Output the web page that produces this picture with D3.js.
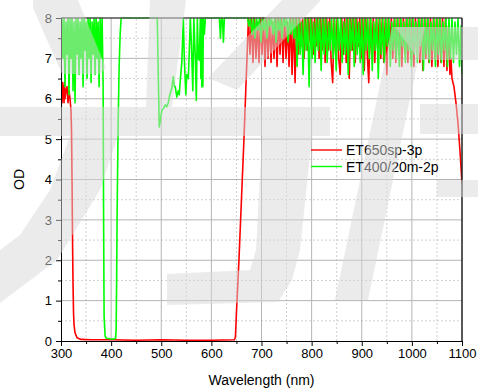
<!DOCTYPE html>
<html>
<head>
<meta charset="utf-8">
<script src="https://cdn.jsdelivr.net/npm/d3@7"></script>
<style>
  html, body { margin: 0; padding: 0; background: #fff; }
  svg { display: block; font-family: "Liberation Sans", Arial, sans-serif; }
</style>
</head>
<body>
<svg id="chart" width="478" height="388"></svg>
<script>
// Series names and colours (legend order)
const seriesNames = ["ET650sp-3p", "ET400/20m-2p"];
const seriesColors = ["#ff0000", "#00ff00"];

// ET650sp-3p: [wavelength nm, OD]
const et650sp = [
  [300,5.5],[301,6.1],[302,5.9],[303,6.4],[304,6.0],[305,6.3],[306,5.9],[307,6.4],[308,6.0],
  [310,6.2],[312,6.3],[314,5.9],[316,6.2],[318,6.0],[320,5.7],[321,5.2],[322,4.0],[323,2.5],
  [324,1.4],[325,0.7],[326,0.4],[328,0.2],[332,0.08],[340,0.04],[360,0.03],[400,0.03],[450,0.02],
  [500,0.03],[550,0.02],[600,0.02],[646,0.03],[648,0.1],[650,0.7],[655,2.0],[660,3.5],[665,5.0],
  [668,6.0],[671,7.0],[674,8],
  [677,7.1],[680,8],[683,6.9],[686,8],[689,7.0],[692,7.9],[695,6.9],[698,8],[701,7.1],
  [704,8],[707,6.8],[710,8],[713,7.0],[716,8],[719,6.9],[722,7.9],[725,7.0],[728,8],[731,6.8],
  [734,8],[737,7.1],[740,8],[743,6.9],[746,8],[749,7.0],[752,7.9],[755,6.8],[758,8],[761,6.6],
  [764,8],[767,6.4],[770,8],[773,7.1],[776,8],[779,7.3],[782,8],[785,7.0],[788,8],[791,7.2],
  [794,8],[797,7.4],[800,8],[803,7.1],[806,8],[809,7.3],[812,8],[815,7.0],[818,8],[821,7.2],
  [824,8],[827,6.9],[830,8],[833,7.2],[836,8],[839,6.9],[842,6.4],[845,8],[848,7.1],[851,8],
  [854,7.0],[857,6.6],[860,8],[863,7.1],[866,8],[869,6.9],[872,8],[875,6.5],[878,8],[881,7.2],
  [884,8],[887,6.9],[890,8],[893,7.3],[896,8],[899,7.0],[902,8],[905,6.7],[908,8],[911,7.1],
  [914,6.4],[917,8],[920,7.1],[923,8],[926,6.9],[929,8],[932,7.2],[935,8],[938,7.0],[941,8],
  [944,6.9],[947,8],[950,6.6],[953,8],[956,7.2],[959,8],[962,7.0],[965,8],[968,6.9],[971,8],
  [974,7.1],[977,8],[980,6.8],[983,8],[986,7.1],[989,8],[992,6.9],[995,8],[998,7.0],[1001,8],
  [1004,6.8],[1007,8],[1010,7.1],[1013,8],[1016,6.9],[1019,8],[1022,6.7],[1025,8],[1028,7.0],
  [1031,8],[1034,6.9],[1037,8],[1040,6.8],[1043,8],[1046,7.0],[1049,8],[1052,6.8],[1055,8],
  [1058,6.9],[1061,8],[1064,6.8],[1067,8],[1070,6.7],[1073,7.8],[1076,6.6],[1078,7.0],[1080,6.5],
  [1084,6.3],[1088,5.9],[1092,5.4],[1096,4.7],[1100,3.9]
];

// ET400/20m-2p: [wavelength nm, OD]
const et400 = [
  [300,6.6],[302,8],[304,7.0],[306,8],[308,6.3],[310,7.9],[312,7.1],[314,8],[316,6.1],[318,8],
  [320,7.0],[322,8],[324,6.2],[326,7.9],[328,5.9],[330,8],[332,7.1],[334,8],[336,6.6],[338,7.9],
  [340,7.0],[342,8],[344,6.3],[346,8],[348,7.2],[350,7.9],[352,6.5],[354,8],[356,7.0],[358,8],
  [360,6.4],[362,7.9],[364,7.1],[366,8],[368,6.6],[370,8],[372,7.0],[374,7.9],[376,6.3],[378,8],
  [380,7.0],[382,8],[384,6.4],
  [385,3.0],[386,0.6],[388,0.12],[390,0.07],[395,0.06],[400,0.05],[405,0.05],[409,0.07],[410,0.3],
  [411,1.5],[412,3.2],[414,5.4],[416,6.8],[418,7.6],[420,8],[492,8],
  [496,5.3],[498,5.45],[501,5.7],[504,5.75],[508,5.85],[511,5.8],[514,5.9],[517,6.1],[521,6.26],
  [524,6.55],[526,6.3],[528,6.3],[531,6.04],[534,6.2],[536,6.1],[538,6.46],[541,6.9],[543,7.6],
  [544,8],[546,7.0],[549,6.1],[551,6.6],[554,6.5],[556,7.2],[558,8],[560,7.4],[563,6.2],[565,8],
  [568,7.0],[570,5.96],[572,8],[574,7.0],[576,6.95],[578,8],[579,6.5],[580,8],[581,6.3],[582,8],
  [583,6.3],[584,8],[586,7.6],[588,8],[616,8],[618,7.5],[620,8],[622,8],[624,7.4],[626,8],
  [672,8],[675,7.8],[678,8],[681,7.6],[684,8],[687,7.5],[690,8],[693,7.7],[696,8],[699,7.4],
  [702,8],[705,7.7],[708,8],[711,7.5],[714,8],[717,7.8],[720,8],[723,7.6],[726,8],[729,7.4],
  [732,8],[735,7.7],[738,8],[741,7.5],[744,8],[747,7.8],[750,8],[753,7.4],[756,8],[759,7.6],
  [762,8],[765,7.5],[768,8],[771,6.8],[774,8],[777,7.1],[780,7.9],[783,6.6],[786,8],[789,7.2],
  [792,8],[795,6.3],[798,8],[801,7.0],[804,7.9],[807,6.9],[810,8],[813,7.2],[816,8],[819,6.7],
  [822,8],[825,7.1],[828,8],[831,6.9],[834,7.9],[837,7.2],[840,8],[843,7.0],[846,8],[849,6.7],
  [852,8],[855,7.2],[858,8],[861,6.9],[864,7.9],[867,7.1],[870,8],[873,6.6],[876,8],[879,7.2],
  [882,8],[885,6.8],[888,8],[891,7.1],[894,7.9],[897,6.9],[900,8],[903,6.6],[906,8],[909,7.2],
  [912,8],[915,7.0],[918,8],[921,6.7],[924,7.9],[927,7.2],[930,8],[933,6.5],[936,8],[939,7.1],
  [942,8],[945,6.9],[948,8],[951,7.3],[954,8],[957,6.8],[960,7.9],[963,7.2],[966,8],[969,7.0],
  [972,8],[975,6.8],[978,8],[981,7.3],[984,7.9],[987,6.9],[990,8],[993,7.2],[996,8],[999,6.8],
  [1002,8],[1005,7.1],[1008,7.9],[1011,6.9],[1014,8],[1017,7.3],[1020,8],[1023,6.7],[1026,8],
  [1029,7.1],[1032,8],[1035,6.9],[1038,7.9],[1041,7.2],[1044,8],[1047,6.8],[1050,8],[1053,7.1],
  [1056,8],[1059,6.9],[1062,7.9],[1065,7.2],[1068,8],[1071,6.8],[1074,8],[1077,7.0],[1080,8],
  [1083,6.9],[1086,7.9],[1089,7.1],[1092,8],[1095,6.8],[1098,7.8],[1100,6.6]
];

const xTicks = [300, 400, 500, 600, 700, 800, 900, 1000, 1100];
const xMinorTicks = [350, 450, 550, 650, 750, 850, 950, 1050];
const yTicks = [0, 1, 2, 3, 4, 5, 6, 7, 8];
const yMinorTicks = [0.5, 1.5, 2.5, 3.5, 4.5, 5.5, 6.5, 7.5];

// Watermark strokes laid over the picture (pixel polygons)
const watermark = [
  [[33,0],[78,0],[106,68],[100,74],[62,74],[33,8]],
  [[150,0],[186,0],[172,107],[146,107]],
  [[0,107],[330,107],[330,136],[0,136]],
  [[420,104],[478,104],[478,134],[420,134]],
  [[70,136],[118,136],[100,190],[57,260],[0,303],[0,250],[20,235],[50,190]],
  [[208,78],[282,0],[321,0],[237,90]],
  [[262,136],[312,136],[300,250],[292,280],[278,302],[167,305],[167,274],[250,270],[256,250]],
  [[392,27],[425,27],[368,300],[335,300]],
  [[395,27],[478,27],[478,60],[419,60]],
  [[437,180],[478,180],[478,197],[437,197]]
];

const svg = d3.select("#chart");
const W = 478, H = 388;
const margin = { top: 18, right: 16, bottom: 47, left: 61 };

const x = d3.scaleLinear().domain([300, 1100]).range([margin.left, W - margin.right]);
const y = d3.scaleLinear().domain([0, 8]).range([H - margin.bottom, margin.top]);

// Grid
const grid = svg.append("g");
grid.selectAll(".vminor").data(xMinorTicks).join("line")
  .attr("x1", d => x(d)).attr("x2", d => x(d))
  .attr("y1", y(0)).attr("y2", y(8))
  .attr("stroke", "#d0d0d0").attr("stroke-dasharray", "2,2");
grid.selectAll(".hminor").data(yMinorTicks).join("line")
  .attr("y1", d => y(d)).attr("y2", d => y(d))
  .attr("x1", x(300)).attr("x2", x(1100))
  .attr("stroke", "#d0d0d0").attr("stroke-dasharray", "2,2");
grid.selectAll(".vmajor").data(xTicks.slice(1, -1)).join("line")
  .attr("x1", d => x(d)).attr("x2", d => x(d))
  .attr("y1", y(0)).attr("y2", y(8))
  .attr("stroke", "#b4b4b4");
grid.selectAll(".hmajor").data(yTicks.slice(1, -1)).join("line")
  .attr("y1", d => y(d)).attr("y2", d => y(d))
  .attr("x1", x(300)).attr("x2", x(1100))
  .attr("stroke", "#b4b4b4");

// Lines
svg.append("clipPath").attr("id", "clip").append("rect")
  .attr("x", x(300)).attr("y", y(8) - 1)
  .attr("width", x(1100) - x(300)).attr("height", y(0) - y(8) + 2);

const line = d3.line().x(d => x(d[0])).y(d => y(d[1]));
const plot = svg.append("g").attr("clip-path", "url(#clip)");
[et650sp, et400].forEach((data, i) => {
  plot.append("path").datum(data)
    .attr("d", line)
    .attr("fill", "none")
    .attr("stroke", seriesColors[i])
    .attr("stroke-width", 1.6)
    .attr("stroke-linejoin", "round");
});

// Frame: top and right
svg.append("line").attr("x1", x(300)).attr("x2", x(1100)).attr("y1", y(8)).attr("y2", y(8))
  .attr("stroke", "#505050").attr("stroke-width", 1.5);
svg.append("line").attr("x1", x(1100)).attr("x2", x(1100)).attr("y1", y(8)).attr("y2", y(0))
  .attr("stroke", "#202020").attr("stroke-width", 1.5);

// Axes
svg.append("g").attr("transform", `translate(0,${y(0)})`)
  .call(d3.axisBottom(x).tickValues(xTicks).tickFormat(d3.format("d"))
    .tickSize(5).tickSizeOuter(0).tickPadding(3));
svg.append("g").attr("transform", `translate(0,${y(0)})`)
  .call(d3.axisBottom(x).tickValues(xMinorTicks).tickSize(3).tickFormat(""))
  .call(g => g.select(".domain").remove());
svg.append("g").attr("transform", `translate(${x(300)},0)`)
  .call(d3.axisLeft(y).tickValues(yTicks).tickSize(5).tickSizeOuter(0).tickPadding(4));
svg.append("g").attr("transform", `translate(${x(300)},0)`)
  .call(d3.axisLeft(y).tickValues(yMinorTicks).tickSize(3).tickFormat(""))
  .call(g => g.select(".domain").remove());
svg.selectAll(".tick text").attr("font-size", 13).attr("fill", "#000")
  .attr("font-family", "'Liberation Sans', Arial, sans-serif");
svg.selectAll(".domain, .tick line").attr("stroke", "#000");

// Axis titles
svg.append("text").attr("x", (x(300) + x(1100)) / 2).attr("y", 385)
  .attr("text-anchor", "middle").attr("font-size", 14).text("Wavelength (nm)");
svg.append("text").attr("transform", `translate(24,${(y(0) + y(8)) / 2}) rotate(-90)`)
  .attr("text-anchor", "middle").attr("font-size", 14).text("OD");

// Legend
const legend = svg.append("g").attr("transform", "translate(311,150)");
seriesNames.forEach((name, i) => {
  const row = legend.append("g").attr("transform", `translate(0,${i * 16.5})`);
  row.append("line").attr("x1", 0).attr("x2", 31).attr("y1", 0).attr("y2", 0)
    .attr("stroke", seriesColors[i]).attr("stroke-width", 1.4);
  row.append("text").attr("x", 35).attr("y", 5).attr("font-size", 14).text(name);
});

// Watermark on top
svg.append("g").selectAll("polygon").data(watermark).join("polygon")
  .attr("points", d => d.map(p => p.join(",")).join(" "))
  .attr("fill", "#d8d8d8").attr("fill-opacity", 0.5);
</script>
</body>
</html>
